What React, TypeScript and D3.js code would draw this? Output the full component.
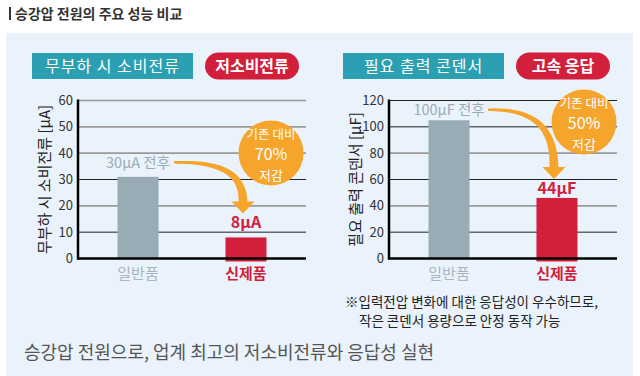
import React from "react";
import * as d3 from "d3";

const categories = ["일반품", "신제품"];
const currentValues = [31, 8];
const capacitorValues = [105, 46];
const currentTicks = [0, 10, 20, 30, 40, 50, 60];
const capacitorTicks = [0, 20, 40, 60, 80, 100, 120];

const pageTitle = "승강압 전원의 주요 성능 비교";
const bottomText = "승강압 전원으로, 업계 최고의 저소비전류와 응답성 실현";
const noteLines = ["※입력전압 변화에 대한 응답성이 우수하므로,", "작은 콘덴서 용량으로 안정 동작 가능"];

const FONT = "'Noto Sans CJK KR', 'Noto Sans', sans-serif";
const TEAL = "#2aa0b2";
const RED = "#d21f3c";
const GRAY_BAR = "#99acb6";
const ORANGE = "#f5a42c";

interface ChartProps {
  x0: number;
  values: number[];
  ticks: number[];
  boxTitle: string;
  pillTitle: string;
  yTitle: string;
  oldLabel: string;
  newLabel: string;
  badgeLines: string[];
  circle: { dx: number; cy: number };
  darkLines: number[];
  oldGap: number;
  newGap: number;
  labelHalf: number;
}

function taperedArrow(p0: number[], p1: number[], p2: number[], p3: number[], w0: number, w1: number) {
  const n = 40;
  const leftSide: number[][] = [];
  const rightSide: number[][] = [];
  for (let i = 0; i <= n; i++) {
    const t = i / n;
    const mt = 1 - t;
    const px = mt * mt * mt * p0[0] + 3 * mt * mt * t * p1[0] + 3 * mt * t * t * p2[0] + t * t * t * p3[0];
    const py = mt * mt * mt * p0[1] + 3 * mt * mt * t * p1[1] + 3 * mt * t * t * p2[1] + t * t * t * p3[1];
    const dx = 3 * mt * mt * (p1[0] - p0[0]) + 6 * mt * t * (p2[0] - p1[0]) + 3 * t * t * (p3[0] - p2[0]);
    const dy = 3 * mt * mt * (p1[1] - p0[1]) + 6 * mt * t * (p2[1] - p1[1]) + 3 * t * t * (p3[1] - p2[1]);
    const len = Math.hypot(dx, dy) || 1;
    const nx = -dy / len;
    const ny = dx / len;
    const w = (w0 + (w1 - w0) * t) / 2;
    leftSide.push([px + nx * w, py + ny * w]);
    rightSide.push([px - nx * w, py - ny * w]);
  }
  const pts = leftSide.concat(rightSide.reverse());
  return d3.line()(pts as [number, number][]) + "Z";
}

function Chart(p: ChartProps) {
  const left = p.x0 + 78;
  const right = p.x0 + 306;
  const top = 100.5;
  const bottom = 258.5;
  const maxV = p.ticks[p.ticks.length - 1];
  const y = d3.scaleLinear().domain([0, maxV]).range([bottom, top]);
  const x = d3.scalePoint<string>().domain(categories).range([left, right]).padding(0.556);
  const bw = 41;
  const oldX = x(categories[0])!;
  const newX = x(categories[1])!;
  const oldLabelY = y(p.values[0]) - p.oldGap;
  const newLabelY = y(p.values[1]) - p.newGap;
  const sx = oldX + p.labelHalf + 1;
  const sy = oldLabelY - 5.5;
  const tipY = newLabelY - 15;
  const headH = 12;
  const ex = newX - 3;
  const ey = tipY - headH;
  const arrow = taperedArrow([sx, sy], [ex - 17, sy - 1], [ex, sy + 0.35 * (ey - sy)], [ex, ey + 1], 2.5, 9);
  const cx = p.x0 + p.circle.dx;
  return (
    <g fontFamily={FONT}>
      <rect x={p.x0 + 32} y={53} width={161} height={26} fill={TEAL} />
      <text x={p.x0 + 112.5} y={72} textAnchor="middle" fill="#fff" fontSize={16} letterSpacing={1}>
        {p.boxTitle}
      </text>
      <rect x={p.x0 + 205} y={52.5} width={94} height={27} rx={13.5} fill={RED} />
      <text x={p.x0 + 252} y={72} textAnchor="middle" fill="#fff" fontSize={16} fontWeight="bold">
        {p.pillTitle}
      </text>
      {p.ticks.slice(1).map((t) => (
        <line
          key={t}
          x1={left}
          x2={right}
          y1={y(t)}
          y2={y(t)}
          stroke={p.darkLines.includes(t) ? "#222" : "#9a9a9a"}
          strokeWidth={p.darkLines.includes(t) ? 1 : 1.6}
        />
      ))}
      {p.ticks.map((t) => (
        <text key={"l" + t} x={left - 5} y={y(t) + 4.5} textAnchor="end" fontSize={13} fill="#333">
          {t}
        </text>
      ))}
      <rect x={oldX - bw / 2} y={y(p.values[0])} width={bw} height={bottom - y(p.values[0])} fill={GRAY_BAR} />
      <rect x={newX - bw / 2} y={y(p.values[1])} width={bw} height={bottom + 3 - y(p.values[1])} fill={RED} />
      <line x1={left} x2={left} y1={top - 1} y2={bottom + 1} stroke="#000" strokeWidth={2.5} />
      <line x1={left - 1} x2={right} y1={bottom} y2={bottom} stroke="#000" strokeWidth={2.5} />
      <text
        transform={`translate(${p.x0 + 50},${(top + bottom) / 2}) rotate(-90)`}
        textAnchor="middle"
        fontSize={15}
        fill="#222"
      >
        {p.yTitle}
      </text>
      <text x={oldX} y={279} textAnchor="middle" fontSize={15} fill="#a7b6be">
        {categories[0]}
      </text>
      <text x={newX} y={279} textAnchor="middle" fontSize={15} fill={RED} fontWeight="bold">
        {categories[1]}
      </text>
      <circle cx={cx} cy={p.circle.cy} r={32.5} fill={ORANGE} />
      <text x={cx} y={p.circle.cy - 14.5} textAnchor="middle" fontSize={12.5} fill="#fff">
        {p.badgeLines[0]}
      </text>
      <text x={cx} y={p.circle.cy + 7} textAnchor="middle" fontSize={16} fill="#fff">
        {p.badgeLines[1]}
      </text>
      <text x={cx} y={p.circle.cy + 26.5} textAnchor="middle" fontSize={13} fill="#fff">
        {p.badgeLines[2]}
      </text>
      <path d={arrow} fill={ORANGE} />
      <path d={`M${ex - 11.5},${ey} L${ex + 11.5},${ey} L${ex},${tipY} Z`} fill={ORANGE} />
      <text x={oldX} y={oldLabelY} textAnchor="middle" fontSize={14.5} fill={GRAY_BAR}>
        {p.oldLabel}
      </text>
      <text x={newX} y={newLabelY} textAnchor="middle" fontSize={16} fill={RED} fontWeight="bold">
        {p.newLabel}
      </text>
    </g>
  );
}

export default function App() {
  return (
    <svg
      width={640}
      height={376}
      style={{ position: "absolute", left: 0, top: 0, background: "#fff" }}
      fontFamily={FONT}
    >
      <rect x={0} y={0} width={640} height={376} fill="#fff" />
      <rect x={9} y={7} width={2} height={13} fill="#333" />
      <text x={15} y={19} fontSize={14} fontWeight="bold" fill="#333">
        {pageTitle}
      </text>
      <rect x={6} y={33} width={627} height={343} fill="#eaf2fb" />
      <Chart
        x0={0}
        values={currentValues}
        ticks={currentTicks}
        boxTitle="무부하 시 소비전류"
        pillTitle="저소비전류"
        yTitle="무부하 시 소비전류 [μA]"
        oldLabel="30μA 전후"
        newLabel="8μA"
        badgeLines={["기존 대비", "70%", "저감"]}
        circle={{ dx: 271, cy: 153 }}
        darkLines={[10, 30]}
        oldGap={9}
        newGap={9}
        labelHalf={35}
      />
      <Chart
        x0={311}
        values={capacitorValues}
        ticks={capacitorTicks}
        boxTitle="필요 출력 콘덴서"
        pillTitle="고속 응답"
        yTitle="필요 출력 콘덴서 [μF]"
        oldLabel="100μF 전후"
        newLabel="44μF"
        badgeLines={["기존 대비", "50%", "저감"]}
        circle={{ dx: 273, cy: 122 }}
        darkLines={[20, 60, 100, 120]}
        oldGap={5}
        newGap={4}
        labelHalf={38}
      />
      <text x={345} y={306.5} fontSize={13.5} fill="#222" fontFamily={FONT}>
        {noteLines[0]}
      </text>
      <text x={359} y={326} fontSize={13.5} fill="#222" fontFamily={FONT}>
        {noteLines[1]}
      </text>
      <text x={24} y={359} fontSize={18} fill="#555" fontFamily={FONT}>
        {bottomText}
      </text>
    </svg>
  );
}
